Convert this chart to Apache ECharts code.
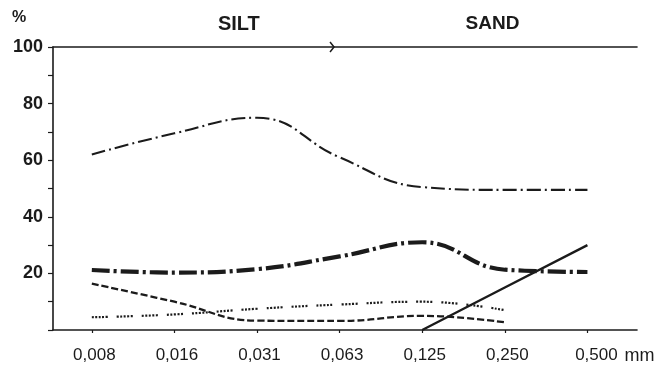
<!DOCTYPE html>
<html>
<head>
<meta charset="utf-8">
<script src="https://cdn.jsdelivr.net/npm/echarts@6/dist/echarts.min.js"></script>
<style>
  html, body { margin: 0; padding: 0; background: #ffffff; }
  #chart { width: 664px; height: 370px; }
</style>
</head>
<body>
<div id="chart"></div>
<script>
// Grain-size classes (mm), one position per class on the x axis
const sizeClasses = ['0,008', '0,016', '0,031', '0,063', '0,125', '0,250', '0,500'];
const classIndex = [0, 1, 2, 3, 4, 5, 6];

// Percentage curves per grain-size class
const seriesThinDashDot = [62, 69.5, 75, 61, 50.5, 49.5, 49.5];
const seriesThickDashDot = [21.2, 20.3, 21.5, 26, 31, 21.3, 20.5];
const seriesDashed = [16.4, 10, 3.3, 3.2, 5, 2.7];
const seriesDotted = [4.5, 5.5, 7.5, 9, 10, 7];
const seriesSolid = [null, null, null, null, 0, 15, 30];

const yTicks = [20, 40, 60, 80, 100];
const fractionLabels = ['SILT', 'SAND'];
const unitLabel = 'mm';

const ink = '#1b1b1b';
const FONT = '"Liberation Sans", Arial, Helvetica, sans-serif';

function pairs(values) {
  return values.map((v, i) => [classIndex[i], v]);
}

const chart = echarts.init(document.getElementById('chart'), null, { renderer: 'canvas' });

const option = {
  backgroundColor: '#ffffff',
  animation: false,
  grid: { left: 53, right: 27, top: 47, bottom: 40 },
  xAxis: [
    {
      type: 'value',
      min: -0.47,
      max: 6.6,
      axisLine: { show: true, onZero: false, lineStyle: { color: ink, width: 1.6 } },
      axisTick: {
        show: true, length: 3, inside: false,
        customValues: classIndex,
        lineStyle: { color: ink, width: 1.2 }
      },
      axisLabel: {
        show: true,
        customValues: classIndex,
        margin: 17,
        color: ink,
        fontFamily: FONT,
        fontSize: 17,
        formatter: (v) => {
          const i = Math.round(v);
          if (i === classIndex.length - 1) return '{last|' + sizeClasses[i] + '}';
          return '{lab|' + sizeClasses[i] + '}';
        },
        rich: {
          lab: { fontFamily: FONT, fontSize: 17, color: ink, padding: [0, 0, 0, 5] },
          last: { fontFamily: FONT, fontSize: 17, color: ink, padding: [0, 0, 0, 18] }
        }
      },
      splitLine: { show: false }
    },
    {
      type: 'value',
      position: 'top',
      min: -0.47,
      max: 6.6,
      axisLine: { show: true, onZero: false, lineStyle: { color: ink, width: 1.6 } },
      axisTick: { show: false },
      axisLabel: { show: false },
      splitLine: { show: false }
    }
  ],
  yAxis: {
    type: 'value',
    min: 0,
    max: 100,
    interval: 10,
    axisLine: { show: true, onZero: false, lineStyle: { color: ink, width: 1.6 } },
    axisTick: { show: true, length: 5, lineStyle: { color: ink, width: 1.2 } },
    axisLabel: {
      margin: 10,
      color: ink,
      fontFamily: FONT,
      fontSize: 18,
      fontWeight: 'bold',
      formatter: (v) => (yTicks.indexOf(v) >= 0 ? String(v) : '')
    },
    splitLine: { show: false }
  },
  series: [
    {
      type: 'line', xAxisIndex: 0, data: pairs(seriesThinDashDot),
      smooth: 0.45, symbol: 'none',
      lineStyle: { color: ink, width: 2.1, type: [14, 4, 2, 4] }
    },
    {
      type: 'line', xAxisIndex: 0, data: pairs(seriesThickDashDot),
      smooth: 0.45, symbol: 'none',
      lineStyle: { color: ink, width: 4.2, type: [18, 4, 3, 4] }
    },
    {
      type: 'line', xAxisIndex: 0, data: pairs(seriesDashed),
      smooth: 0.45, symbol: 'none',
      lineStyle: { color: ink, width: 2.3, type: [7, 3] }
    },
    {
      type: 'line', xAxisIndex: 0, data: pairs(seriesDotted),
      smooth: 0.45, symbol: 'none',
      lineStyle: { color: ink, width: 2.2, type: [2, 1.5, 2, 1.5, 2, 1.5, 2, 1.5, 2, 9] }
    },
    {
      type: 'line', xAxisIndex: 0, data: pairs(seriesSolid),
      smooth: false, symbol: 'none', connectNulls: false,
      lineStyle: { color: ink, width: 2.4, type: 'solid' }
    }
  ]
};

chart.setOption(option);

// Silt / sand boundary marker on the top line and the header labels
const boundary = chart.convertToPixel({ xAxisIndex: 0, yAxisIndex: 0 }, [2.92, 100]);
const siltCenter = chart.convertToPixel({ xAxisIndex: 0, yAxisIndex: 0 }, [1.78, 100]);
const sandCenter = chart.convertToPixel({ xAxisIndex: 0, yAxisIndex: 0 }, [4.85, 100]);
const lastTick = chart.convertToPixel({ xAxisIndex: 0, yAxisIndex: 0 }, [6, 0]);

chart.setOption({
  graphic: [
    {
      type: 'polyline',
      shape: { points: [[boundary[0] - 3, boundary[1] - 5], [boundary[0] + 1, boundary[1]], [boundary[0] - 3, boundary[1] + 5]] },
      style: { stroke: ink, lineWidth: 1.5, fill: null }
    },
    {
      type: 'text', x: siltCenter[0], y: 24,
      style: { text: fractionLabels[0], font: 'bold 20px ' + FONT, fill: ink, textAlign: 'center', textVerticalAlign: 'middle' }
    },
    {
      type: 'text', x: sandCenter[0], y: 24,
      style: { text: fractionLabels[1], font: 'bold 19px ' + FONT, fill: ink, textAlign: 'center', textVerticalAlign: 'middle' }
    },
    {
      type: 'text', x: 19, y: 18,
      style: { text: '%', font: 'bold 16px ' + FONT, fill: ink, textAlign: 'center', textVerticalAlign: 'middle' }
    },
    {
      type: 'text', x: lastTick[0] + 37, y: lastTick[1] + 26,
      style: { text: unitLabel, font: '18px ' + FONT, fill: ink, textAlign: 'left', textVerticalAlign: 'middle' }
    }
  ]
});
</script>
</body>
</html>
